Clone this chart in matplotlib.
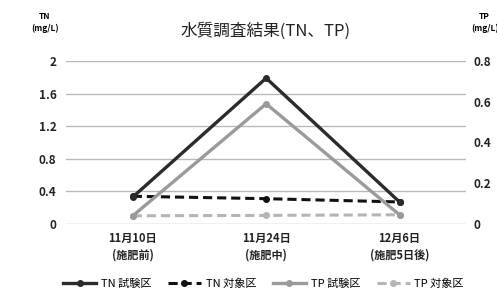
import matplotlib.pyplot as plt

plt.rcParams["font.family"] = ["Noto Sans CJK JP", "DejaVu Sans"]

dates = ["11月10日\n(施肥前)", "11月24日\n(施肥中)", "12月6日\n(施肥5日後)"]
tn_test = [0.33, 1.79, 0.27]
tn_ctrl = [0.34, 0.31, 0.27]
tp_test = [0.04, 0.59, 0.045]
tp_ctrl = [0.04, 0.042, 0.045]
tn_ticks = [0, 0.4, 0.8, 1.2, 1.6, 2]
tn_labels = ["0", "0.4", "0.8", "1.2", "1.6", "2"]
tp_ticks = [0, 0.2, 0.4, 0.6, 0.8]
tp_labels = ["0", "0.2", "0.4", "0.6", "0.8"]

fig = plt.figure(figsize=(4.97, 2.99), dpi=100)
fig.patch.set_facecolor("white")
ax = fig.add_axes([0.133, 0.251, 0.805, 0.545])
ax2 = ax.twinx()

x = range(len(dates))
l1, = ax.plot(x, tn_test, color="#2b2b2b", lw=2.4, marker="o", ms=4, label="TN 試験区", zorder=5)
l2, = ax.plot(x, tn_ctrl, color="#111111", lw=2.2, ls=(0, (3, 1.6)), marker="o", ms=4, label="TN 対象区", zorder=4)
l3, = ax2.plot(x, tp_test, color="#9a9a9a", lw=2.4, marker="o", ms=4, label="TP 試験区", zorder=3)
l4, = ax2.plot(x, tp_ctrl, color="#b5b5b5", lw=2.2, ls=(0, (3, 1.6)), marker="o", ms=4, label="TP 対象区", zorder=2)

ax.set_xlim(-0.5, 2.5)
ax.set_ylim(0, 2)
ax2.set_ylim(0, 0.8)
ax.set_yticks(tn_ticks, tn_labels)
ax2.set_yticks(tp_ticks, tp_labels)
ax.set_xticks(list(x), dates)
ax.grid(axis="y", color="#b8b8b8", lw=1)
ax.set_axisbelow(True)
for a in (ax, ax2):
    for s in a.spines.values():
        s.set_visible(False)
    a.tick_params(length=0, labelsize=8.5, colors="#222222")
    for t in a.get_yticklabels():
        t.set_fontweight("bold")
ax.tick_params(axis="y", pad=7)
ax2.tick_params(axis="y", pad=5)
ax.tick_params(axis="x", pad=6, labelsize=8)
for t in ax.get_xticklabels():
    t.set_fontweight("bold")
    t.set_linespacing(1.3)

fig.text(0.535, 0.895, "水質調査結果(TN、TP)", ha="center", va="center", fontsize=12, color="#222222")
fig.text(0.09, 0.925, "TN\n(mg/L)", ha="center", va="center", fontsize=6, fontweight="bold", linespacing=1.4)
fig.text(0.975, 0.925, "TP\n(mg/L)", ha="center", va="center", fontsize=6, fontweight="bold", linespacing=1.4)

fig.legend(handles=[l1, l2, l3, l4], loc="center", bbox_to_anchor=(0.53, 0.05), ncol=4,
           frameon=False, fontsize=8, handlelength=3, columnspacing=1.5, handletextpad=0.4)

fig.savefig("out.png", dpi=100, facecolor="white")
